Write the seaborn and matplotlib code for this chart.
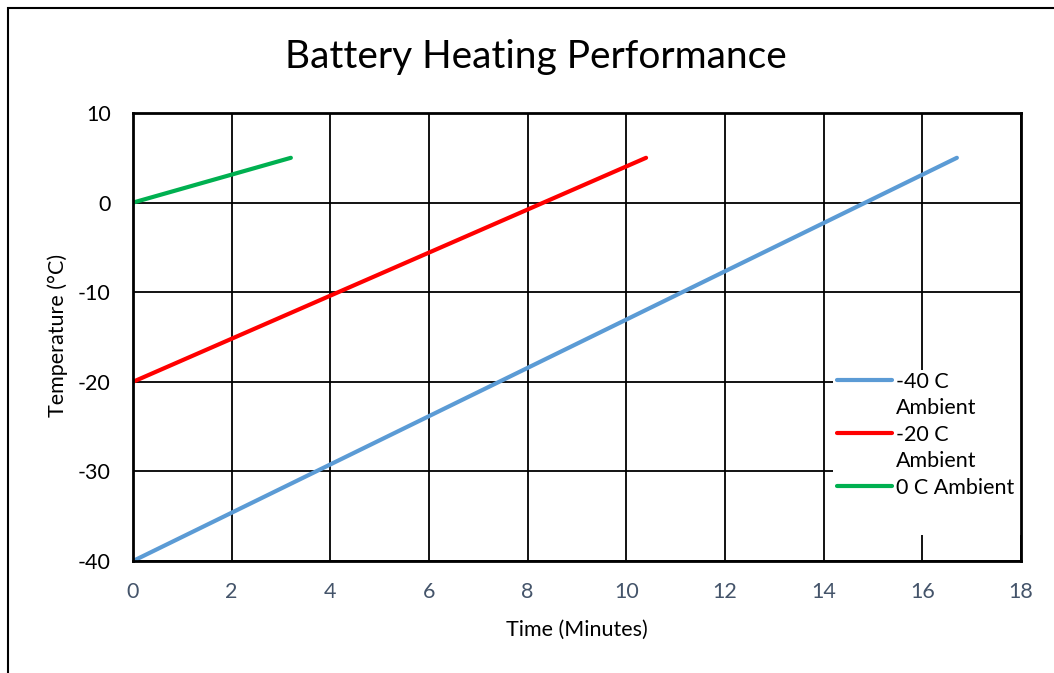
import numpy as np
import pandas as pd
import seaborn as sns
import matplotlib.pyplot as plt
from matplotlib.patches import Rectangle
from matplotlib.lines import Line2D

# series end points (straight heating ramps)
series_names = ['-40 C Ambient', '-20 C Ambient', '0 C Ambient']
legend_rows = ['-40 C', 'Ambient', '-20 C', 'Ambient', '0 C Ambient']
times_40 = [0.0, 16.7]
temps_40 = [-40.0, 5.0]
times_20 = [0.0, 10.4]
temps_20 = [-20.0, 5.0]
times_0 = [0.0, 3.2]
temps_0 = [0.0, 5.0]
series_colors = ['#5B9BD5', '#FF0000', '#00B050']

x_ticks = list(range(0, 20, 2))
y_ticks = list(range(-40, 20, 10))

df = pd.concat([
    pd.DataFrame({'Time': times_40, 'Temp': temps_40, 'Series': series_names[0]}),
    pd.DataFrame({'Time': times_20, 'Temp': temps_20, 'Series': series_names[1]}),
    pd.DataFrame({'Time': times_0, 'Temp': temps_0, 'Series': series_names[2]}),
], ignore_index=True)

sns.set_style('white')
plt.rcParams['font.family'] = ['Lato', 'DejaVu Sans']
plt.rcParams['axes.unicode_minus'] = False
plt.rcParams['text.color'] = 'black'

fig = plt.figure(figsize=(10.54, 6.73), dpi=100)
ax = fig.add_axes([133/1054, 1 - 561/673, (1021 - 133)/1054, (561 - 113)/673])

sns.lineplot(data=df, x='Time', y='Temp', hue='Series', hue_order=series_names,
             palette=series_colors, lw=3, ax=ax, legend=False, zorder=3)
for ln in ax.lines:
    ln.set_solid_capstyle('round')

ax.set_xlim(0, 18)
ax.set_ylim(-40, 10)
ax.set_xticks(x_ticks)
ax.set_yticks(y_ticks)
ax.grid(True, color='black', lw=1.3, zorder=0)
ax.set_axisbelow(True)
for s in ax.spines.values():
    s.set_color('black')
    s.set_linewidth(2)
    s.set_visible(True)
    s.set_zorder(6)

ax.tick_params(axis='both', length=0, labelsize=15.5)
ax.tick_params(axis='y', pad=16, labelcolor='black')
ax.tick_params(axis='x', pad=15, labelcolor='#44546A')
ax.set_xlabel('')
ax.set_ylabel('')

fig.text(577/1054, 1 - 630/673, 'Time (Minutes)', ha='center', va='center', fontsize=15.5)
fig.text(58/1054, 1 - 335/673, 'Temperature (°C)', ha='center', va='center',
         rotation=90, fontsize=15.5)
fig.text(536/1054, 1 - 57/673, 'Battery Heating Performance', ha='center', va='center',
         fontsize=28)

# white legend area on top of the grid
ax.add_patch(Rectangle((0.788, 0.058), 0.212, 0.368, transform=ax.transAxes,
                       facecolor='white', edgecolor='none', zorder=4))
blank = Line2D([], [], color='none')
handles = [ax.lines[0], blank, ax.lines[1], blank, ax.lines[2]]
leg = ax.legend(handles, legend_rows, loc='upper left', bbox_to_anchor=(0.788, 0.432),
                frameon=False, fontsize=15.5, handlelength=2.55, handletextpad=0.2,
                labelspacing=0.3, borderaxespad=0, borderpad=0.2)
leg.set_zorder(5)

# outer chart border (only the left and top edges fall inside the picture)
fig.patches.append(Rectangle((8/1054, -0.2), 1.2, 1.2 - 8/673,
                             transform=fig.transFigure, fill=False,
                             edgecolor='black', lw=1.5))

fig.savefig('out.png', dpi=100)
